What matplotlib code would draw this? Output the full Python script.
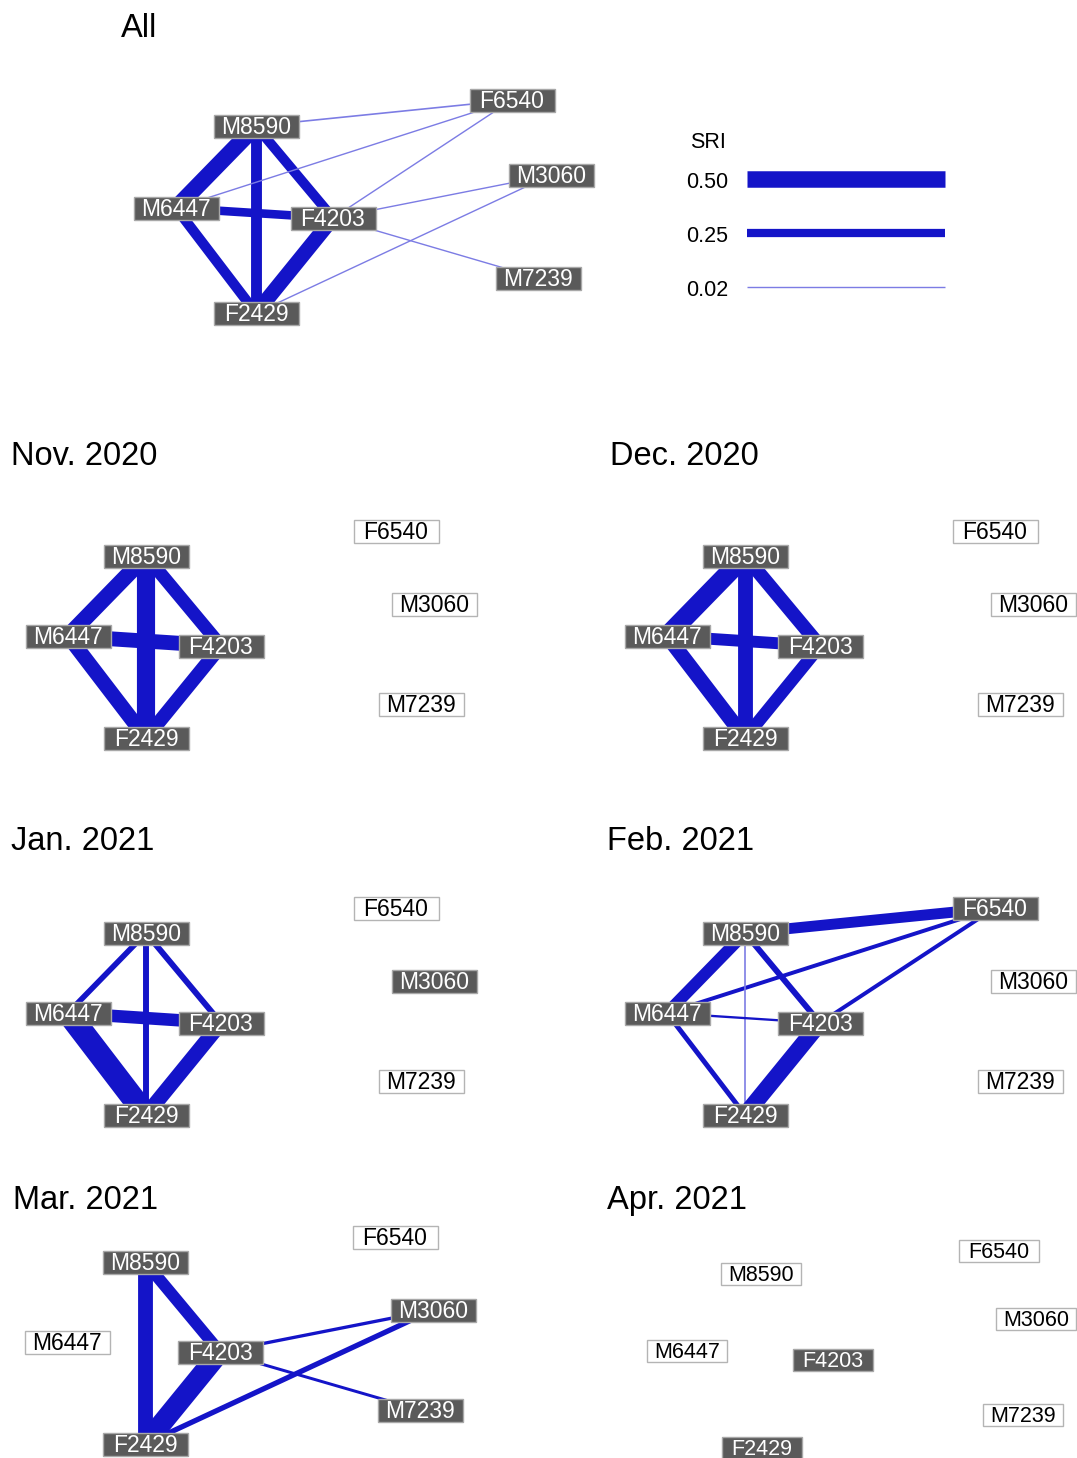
import matplotlib
matplotlib.use("Agg")
import matplotlib.pyplot as plt
from matplotlib.patches import Rectangle

plt.rcParams['font.family'] = ['Liberation Sans', 'DejaVu Sans']

# ---------------- data ----------------
individuals = ["M8590", "F6540", "M3060", "M6447", "F4203", "M7239", "F2429"]

panel_titles = ["All", "Nov. 2020", "Dec. 2020", "Jan. 2021",
                "Feb. 2021", "Mar. 2021", "Apr. 2021"]

# individuals detected in each period
present_all = ["M8590", "F6540", "M3060", "M6447", "F4203", "M7239", "F2429"]
present_nov = ["M8590", "M6447", "F4203", "F2429"]
present_dec = ["M8590", "M6447", "F4203", "F2429"]
present_jan = ["M8590", "M6447", "F4203", "F2429", "M3060"]
present_feb = ["M8590", "M6447", "F4203", "F2429", "F6540"]
present_mar = ["M8590", "F4203", "F2429", "M3060", "M7239"]
present_apr = ["F4203", "F2429"]

# simple ratio index (SRI) for each dyad
edges_all = [("M8590", "M6447", 0.50), ("M8590", "F2429", 0.33),
             ("M8590", "F4203", 0.30), ("M6447", "F4203", 0.26),
             ("M6447", "F2429", 0.31), ("F4203", "F2429", 0.45),
             ("M8590", "F6540", 0.05), ("M6447", "F6540", 0.04),
             ("F4203", "F6540", 0.02), ("F4203", "M3060", 0.02),
             ("F2429", "M3060", 0.02), ("F4203", "M7239", 0.02)]
edges_nov = [("M8590", "M6447", 0.48), ("M8590", "F2429", 0.55),
             ("M8590", "F4203", 0.40), ("M6447", "F4203", 0.45),
             ("M6447", "F2429", 0.45), ("F4203", "F2429", 0.42)]
edges_dec = [("M8590", "M6447", 0.58), ("M8590", "F2429", 0.45),
             ("M8590", "F4203", 0.42), ("M6447", "F4203", 0.36),
             ("M6447", "F2429", 0.45), ("F4203", "F2429", 0.38)]
edges_jan = [("M8590", "M6447", 0.17), ("M8590", "F2429", 0.18),
             ("M8590", "F4203", 0.18), ("M6447", "F4203", 0.38),
             ("M6447", "F2429", 0.70), ("F4203", "F2429", 0.45)]
edges_feb = [("M8590", "F6540", 0.33), ("M6447", "F6540", 0.12),
             ("F4203", "F6540", 0.12), ("M8590", "M6447", 0.36),
             ("M8590", "F2429", 0.05), ("M8590", "F4203", 0.18),
             ("M6447", "F4203", 0.07), ("M6447", "F2429", 0.15),
             ("F4203", "F2429", 0.50)]
edges_mar = [("M8590", "F2429", 0.45), ("M8590", "F4203", 0.36),
             ("F4203", "F2429", 0.62), ("F4203", "M3060", 0.10),
             ("F4203", "M7239", 0.09), ("F2429", "M3060", 0.16)]
edges_apr = []

legend_sri = [0.50, 0.25, 0.02]

# ---------------- layout (pixel coordinates) ----------------
W, H = 1077, 1458
fig = plt.figure(figsize=(W / 100, H / 100), dpi=100)
ax = fig.add_axes([0, 0, 1, 1])
ax.set_xlim(0, W)
ax.set_ylim(H, 0)
ax.axis("off")

PX = 72 / 100  # points per pixel

layout_all = {"M8590": (256, 126), "F6540": (512, 100), "M3060": (551, 175),
              "M6447": (176, 208), "F4203": (333, 218), "M7239": (538, 278),
              "F2429": (256, 313)}
layout_month = {"M8590": (146, 556), "F6540": (396, 531), "M3060": (434, 604),
                "M6447": (68, 636), "F4203": (221, 646), "M7239": (421, 704),
                "F2429": (146, 738)}
layout_apr = {"M8590": (761, 1274), "F6540": (999, 1251), "M3060": (1036, 1319),
              "M6447": (687, 1351), "F4203": (833, 1360), "M7239": (1023, 1415),
              "F2429": (762, 1448)}


def shifted(base, dx, dy):
    return {k: (x + dx, y + dy) for k, (x, y) in base.items()}


EDGE_COLOR = "#1414C8"
THIN_COLOR = "#7c7ce4"


def edge_width_px(sri):
    return max(33 * sri, 1.4)


def edge_style(sri):
    w = edge_width_px(sri)
    return w, (EDGE_COLOR if w >= 2.0 else THIN_COLOR)


def draw_edge(p, q, sri):
    w, c = edge_style(sri)
    ax.plot([p[0], q[0]], [p[1], q[1]], color=c, lw=w * PX,
            solid_capstyle="butt", zorder=1)


def draw_node(name, pos, present, bw=85, bh=23, fs=16.5):
    x, y = pos
    if present:
        fc, ec, tc = "#5a5a5a", "#a8a8a8", "white"
    else:
        fc, ec, tc = "white", "#b4b4b4", "black"
    ax.add_patch(Rectangle((x - bw / 2, y - bh / 2), bw, bh, facecolor=fc,
                           edgecolor=ec, lw=1.0, zorder=3))
    ax.text(x, y + 0.36 * fs / PX * 0.98 - 0.5, name, color=tc, fontsize=fs,
            ha="center", va="baseline", zorder=4)


def draw_panel(title, tpos, layout, present, edges, bw=85, bh=23, fs=16.5):
    ax.text(tpos[0], tpos[1], title, fontsize=23.5, ha="left", va="baseline",
            color="black")
    for a, b, s in edges:
        draw_edge(layout[a], layout[b], s)
    for n in individuals:
        draw_node(n, layout[n], n in present, bw, bh, fs)


panels = [
    (panel_titles[0], (121, 37), layout_all, present_all, edges_all),
    (panel_titles[1], (11, 465), layout_month, present_nov, edges_nov),
    (panel_titles[2], (610, 465), shifted(layout_month, 599, 0), present_dec, edges_dec),
    (panel_titles[3], (11, 850), shifted(layout_month, 0, 377), present_jan, edges_jan),
    (panel_titles[4], (607, 850), shifted(layout_month, 599, 377), present_feb, edges_feb),
    (panel_titles[5], (13, 1209), shifted(layout_month, -1, 706), present_mar, edges_mar),
]
for t, tp, lay, pres, ed in panels:
    draw_panel(t, tp, lay, pres, ed)
draw_panel(panel_titles[6], (607, 1209), layout_apr, present_apr, edges_apr,
           bw=80, bh=22, fs=15.5)

# ---------------- legend ----------------
ax.text(690, 148, "SRI", fontsize=15.5, ha="left", va="baseline")
for s, ly in zip(legend_sri, [179, 233, 287]):
    ax.text(686, ly + 9, f"{s:.2f}", fontsize=15.5, ha="left", va="baseline")
    w, c = edge_style(s)
    ax.plot([747, 945], [ly, ly], color=c, lw=w * PX, solid_capstyle="butt")

fig.savefig("out.png", dpi=100)
